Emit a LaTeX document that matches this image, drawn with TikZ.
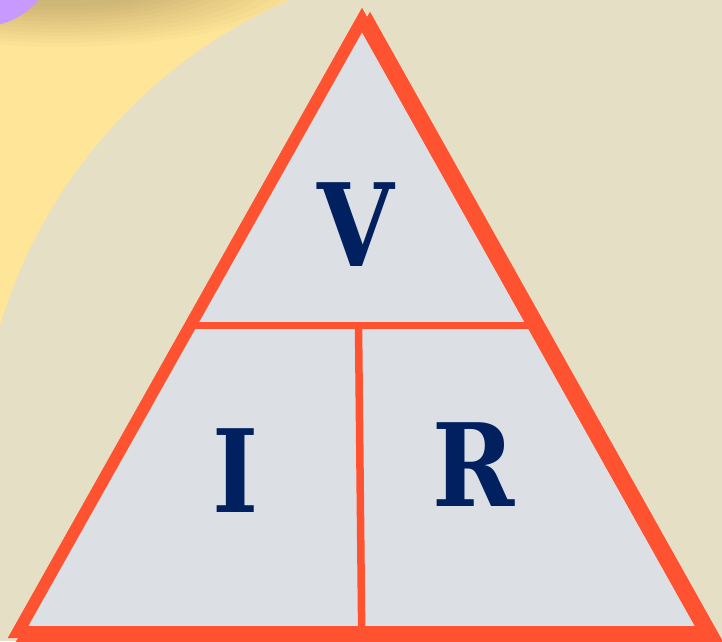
\documentclass[tikz,border=0pt]{standalone}
\usepackage{fontspec}
\newfontfamily\slab{DejaVu Serif}
\definecolor{bgbeige}{HTML}{E5DFC5}
\definecolor{sunyellow}{HTML}{FFE597}
\definecolor{lilac}{HTML}{C899FF}
\definecolor{trifill}{HTML}{DCDFE4}
\definecolor{triorange}{HTML}{FF5230}
\definecolor{navy}{HTML}{00205F}
\begin{document}
\begin{tikzpicture}[x=1pt,y=-1pt,
  edge/.style={draw=triorange, line width=12pt, line join=miter},
  divider/.style={draw=triorange, line width=7.5pt},
  lbl/.style={text=navy, inner sep=0pt, xscale=0.86, font=\slab\bfseries\fontsize{115}{115}\selectfont}]
\useasboundingbox (0,0) rectangle (722,641);
\fill[bgbeige] (0,0) rectangle (722,641);
\begin{scope}
  \clip (0,0) rectangle (400,400);
  \fill[sunyellow] (0,0) rectangle (400,400);
  \foreach \k in {0,...,11}
    \fill[black, opacity=0.014] (60,-25) ellipse [x radius={120pt+12pt*\k}, y radius={32pt+3.6pt*\k}];
  \fill[bgbeige] (495,474) circle [radius=516.5pt];
  \fill[lilac] (-20,-50) circle [radius=77pt];
\end{scope}
% triangle
\coordinate (A) at (362,20);
\coordinate (BL) at (18,632);
\coordinate (BR) at (705,632);
\draw[edge] ([shift={(8,4)}]A) -- ([shift={(8,4)}]BL) -- ([shift={(8,4)}]BR) -- cycle;
\fill[trifill] (A) -- (BL) -- (BR) -- cycle;
\coordinate (HL) at (190,325.5);
\coordinate (HR) at (533,325.5);
\coordinate (VT) at (358.5,325.5);
\coordinate (VB) at (361.7,632);
\draw[divider] (HL) -- (HR);
\draw[divider] (VT) -- (VB);
\draw[edge] (A) -- (BL) -- (BR) -- cycle;
\node[lbl] (V) at (356,225) {V};
\node[lbl] (I) at (236,471) {I};
\node[lbl] (R) at (474,465) {R};
\end{tikzpicture}
\end{document}
